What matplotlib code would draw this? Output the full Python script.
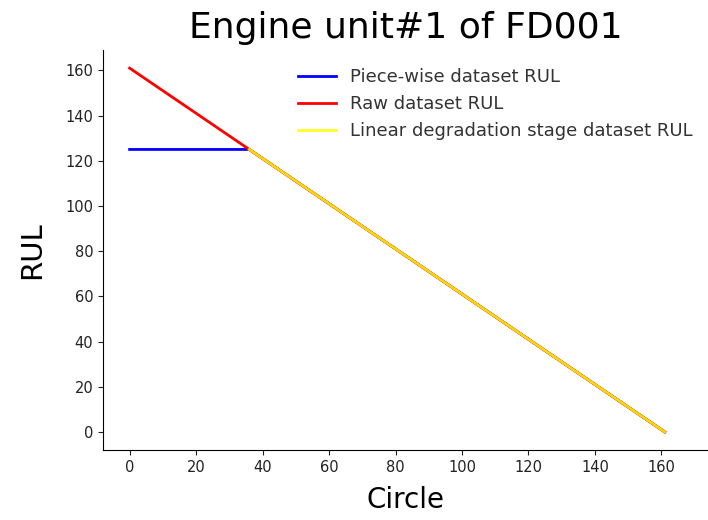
import matplotlib
matplotlib.use("Agg")
import matplotlib.pyplot as plt

# Engine unit #1 of FD001: RUL curves (line end points)
raw_cycle = [0, 161]
raw_rul = [161, 0]

piece_cycle = [0, 36, 161]
piece_rul = [125, 125, 0]

linear_cycle = [36, 161]
linear_rul = [125, 0]

fig = plt.figure(figsize=(7.08, 5.2), dpi=100)
ax = fig.add_axes([0.1455, 0.1346, 0.8545, 0.7692])

ax.plot(piece_cycle, piece_rul, color="blue", linewidth=2, label="Piece-wise dataset RUL")
ax.plot(raw_cycle, raw_rul, color="red", linewidth=2, label="Raw dataset RUL")
ax.plot(linear_cycle, linear_rul, color="yellow", linewidth=2, alpha=0.85,
        label="Linear degradation stage dataset RUL")

ax.set_xlim(-8, 174)
ax.set_ylim(-8, 169)
ax.set_xticks(range(0, 161, 20))
ax.set_yticks(range(0, 161, 20))
ax.tick_params(labelsize=10.5, colors="#222222")
ax.spines["top"].set_visible(False)
ax.spines["right"].set_visible(False)

ax.set_title("Engine unit#1 of FD001", fontsize=26, pad=9)
ax.set_xlabel("Circle", fontsize=20, labelpad=8)
ax.set_ylabel("RUL", fontsize=21, labelpad=14)

ax.legend(loc="upper left", bbox_to_anchor=(0.295, 0.995), frameon=False,
          fontsize=13, handlelength=2.1, labelspacing=0.5, labelcolor="#333333")

fig.savefig("out.png", dpi=100)
